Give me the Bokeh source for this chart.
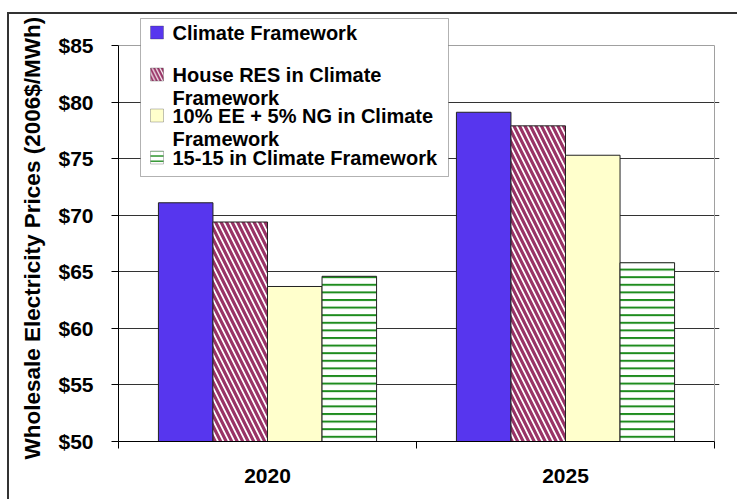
from bokeh.plotting import figure
from bokeh.models import Range1d, FixedTicker, BoxAnnotation, Label, Title
from bokeh.embed import file_html
from bokeh.resources import INLINE

# ---- data ----
categories = ["2020", "2025"]
series_names = [
    "Climate Framework",
    "House RES in Climate Framework",
    "10% EE + 5% NG in Climate Framework",
    "15-15 in Climate Framework",
]
climate_framework = [71.1, 79.1]
house_res = [69.4, 77.9]
ee_ng = [63.7, 75.3]
fifteen_fifteen = [64.6, 65.8]
y_ticks = [50, 55, 60, 65, 70, 75, 80, 85]
y_title = "Wholesale Electricity Prices (2006$/MWh)"

FONT = "Liberation Sans"

# ---- layout (page pixels) ----
OX, OY = 9, 14                 # canvas origin inside the outer chart border
PLOT_L, PLOT_R, PLOT_T, PLOT_B = 118, 714, 45, 441
FRAME_T, FRAME_R = 16, 719     # frame extended so the legend box fits inside
W, H = 739 - OX, 501 - OY

px_y = (PLOT_B - PLOT_T) / (y_ticks[-1] - y_ticks[0])
px_x = (PLOT_R - PLOT_L) / len(categories)
y_end = y_ticks[-1] + (PLOT_T - FRAME_T) / px_y
x_end = len(categories) + (FRAME_R - PLOT_R) / px_x

p = figure(width=W, height=H, title=None,
           x_range=Range1d(0, x_end), y_range=Range1d(y_ticks[0], y_end),
           output_backend="svg", toolbar_location=None,
           min_border_left=PLOT_L - OX, min_border_right=W - (FRAME_R - OX),
           min_border_top=FRAME_T - OY, min_border_bottom=H - (PLOT_B - OY))
p.background_fill_color = "white"
p.border_fill_color = "white"
p.outline_line_color = None
p.margin = (OY - 2, 0, 0, OX - 2)
p.styles = {"border-left": "2px solid #333333", "border-top": "2px solid #333333"}

# plot-area top/right border (gray)
p.segment(x0=[0, len(categories)], y0=[y_ticks[-1], y_ticks[0]],
          x1=[len(categories), len(categories)], y1=[y_ticks[-1], y_ticks[-1]],
          line_color="#a0a0a0", line_width=1)

# bars
bw = 0.183
series_vals = [climate_framework, house_res, ee_ng, fifteen_fifteen]
styles = [
    dict(fill_color="#5736EE"),
    dict(fill_color="white", hatch_pattern="left_diagonal_line", hatch_color="#993366",
         hatch_scale=11, hatch_weight=3.2),
    dict(fill_color="#FFFFCC"),
    dict(fill_color="white", hatch_pattern="horizontal_line", hatch_color="#1E8C1E",
         hatch_scale=7.6, hatch_weight=2),
]
n = len(series_vals)
for k, (vals, st) in enumerate(zip(series_vals, styles)):
    xs = [i + 0.5 + (k - (n - 1) / 2) * bw for i in range(len(categories))]
    p.vbar(x=xs, top=vals, bottom=y_ticks[0], width=bw, line_color="#222222",
           line_width=1, **st)

# grid
p.xgrid.visible = False
p.ygrid.ticker = FixedTicker(ticks=y_ticks[1:-1])
p.ygrid.grid_line_color = "#333333"
p.ygrid.grid_line_width = 1
p.ygrid.bounds = (0, len(categories))

# x axis
xa = p.xaxis[0]
xa.bounds = (0, len(categories))
xa.ticker = FixedTicker(ticks=[i + 0.5 for i in range(len(categories))],
                        minor_ticks=list(range(len(categories) + 1)))
xa.major_label_overrides = {i + 0.5: c for i, c in enumerate(categories)}
xa.major_tick_out = 0
xa.major_tick_in = 0
xa.minor_tick_out = 7
xa.minor_tick_in = 0
xa.minor_tick_line_color = "black"
xa.axis_line_color = "black"
xa.major_label_standoff = 20
xa.major_label_text_font = FONT
xa.major_label_text_font_style = "bold"
xa.major_label_text_font_size = "21px"
xa.major_label_text_color = "black"

# y axis
ya = p.yaxis[0]
ya.bounds = (y_ticks[0], y_ticks[-1])
ya.ticker = FixedTicker(ticks=y_ticks)
ya.major_label_overrides = {v: "$%d" % v for v in y_ticks}
ya.major_tick_out = 7
ya.major_tick_in = 0
ya.minor_tick_line_color = None
ya.major_tick_line_color = "black"
ya.axis_line_color = "black"
ya.major_label_standoff = 18
ya.major_label_text_font = FONT
ya.major_label_text_font_style = "bold"
ya.major_label_text_font_size = "21px"
ya.major_label_text_color = "black"

# y-axis title: starts just below the plot bottom, reads upwards
ttl = Title(text=y_title, align="left", vertical_align="top", text_font=FONT,
            text_font_style="bold", text_font_size="22.5px", text_color="black",
            standoff=18, offset=-18)
p.add_layout(ttl, "left")

# legend (canvas coordinates)
def cx(v):
    return v - OX

def cy(v):
    return v - OY

CU = dict(left_units="canvas", right_units="canvas", top_units="canvas", bottom_units="canvas")
p.add_layout(BoxAnnotation(left=cx(138), right=cx(446), top=cy(16), bottom=cy(174),
                           fill_color="white", fill_alpha=1, line_color="black",
                           line_width=1, **CU))
legend_rows = [30, 72, 113, 155]
legend_lines = [
    ["Climate Framework"],
    ["House RES in Climate", "Framework"],
    ["10% EE + 5% NG in Climate", "Framework"],
    ["15-15 in Climate Framework"],
]
for ry, st, lines in zip(legend_rows, styles, legend_lines):
    s = dict(st)
    if "hatch_scale" in s:
        s["hatch_scale"] = s["hatch_scale"] * 0.7
        s["hatch_weight"] = s["hatch_weight"] * 0.7
    p.add_layout(BoxAnnotation(left=cx(148), right=cx(161), top=cy(ry - 6.5),
                               bottom=cy(ry + 6.5), fill_alpha=1, line_color="#333333",
                               line_width=1, **CU, **s))
    for j, t in enumerate(lines):
        p.add_layout(Label(x=cx(170), y=cy(ry + j * 23), x_units="canvas", y_units="canvas",
                           text=t, text_baseline="middle", text_font=FONT,
                           text_font_style="bold", text_font_size="20px",
                           text_color="black"))

open("out.html", "w").write(file_html(p, INLINE))
